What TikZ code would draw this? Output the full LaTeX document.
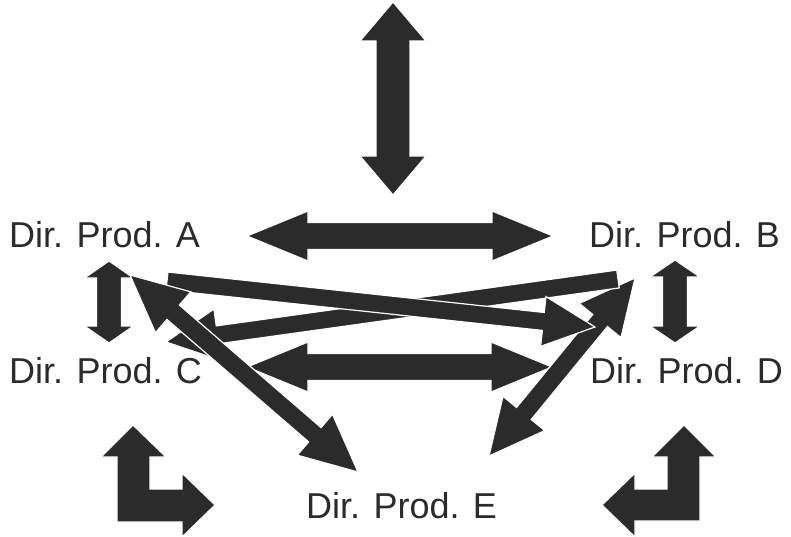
\documentclass[tikz,border=0pt]{standalone}
\usepackage{fontspec}
\setmainfont{Liberation Sans}
\usepackage{tikz}
\usetikzlibrary{calc}
\definecolor{arrowgray}{RGB}{43,43,43}

% block arrows: #1 from, #2 to, #3 half shaft, #4 half head, #5 head length
\newcommand{\onearrow}[5]{%
  \filldraw[blockarrow] ($(#1)!#3!90:(#2)$) -- ($(#2)!#5!(#1)!#3!-90:(#1)$) -- ($(#2)!#5!(#1)!#4!-90:(#1)$) -- (#2)
    -- ($(#2)!#5!(#1)!#4!90:(#1)$) -- ($(#2)!#5!(#1)!#3!90:(#1)$) -- ($(#1)!#3!-90:(#2)$) -- cycle;}
\newcommand{\twoarrow}[5]{%
  \filldraw[blockarrow] (#1) -- ($(#1)!#5!(#2)!#4!90:(#2)$) -- ($(#1)!#5!(#2)!#3!90:(#2)$) -- ($(#2)!#5!(#1)!#3!-90:(#1)$)
    -- ($(#2)!#5!(#1)!#4!-90:(#1)$) -- (#2) -- ($(#2)!#5!(#1)!#4!90:(#1)$) -- ($(#2)!#5!(#1)!#3!90:(#1)$)
    -- ($(#1)!#5!(#2)!#3!-90:(#2)$) -- ($(#1)!#5!(#2)!#4!-90:(#2)$) -- cycle;}

\begin{document}
\begin{tikzpicture}[x=1pt,y=-1pt,
  blockarrow/.style={fill=arrowgray,draw=white,line width=1.2pt,line join=miter},
  lbl/.style={anchor=base west,inner sep=0pt,text=arrowgray,font=\fontsize{36}{40}\selectfont}]
\useasboundingbox (0,0) rectangle (791,537);

% Directors
\node[lbl] (A) at (9,247) {Dir. Prod. A};
\node[lbl] (B) at (589,247) {Dir. Prod. B};
\node[lbl] (C) at (9,383) {Dir. Prod. C};
\node[lbl] (D) at (590,383) {Dir. Prod. D};
\node[lbl] (E) at (306,518) {Dir. Prod. E};

% Arrow ends
\coordinate (top1) at (393,2);   \coordinate (top2) at (393,195);
\coordinate (ab1) at (247,236);  \coordinate (ab2) at (553,236);
\coordinate (cd1) at (247,367);  \coordinate (cd2) at (552,367);
\coordinate (ac1) at (109,261);  \coordinate (ac2) at (109,343);
\coordinate (bd1) at (675,260);  \coordinate (bd2) at (675,343);
\coordinate (ad1) at (167,281);  \coordinate (ad2) at (595,327);
\coordinate (bc1) at (618,279);  \coordinate (bc2) at (166,342);
\coordinate (ae1) at (130,275);  \coordinate (ae2) at (358,472);
\coordinate (eb1) at (489,456);  \coordinate (eb2) at (635,278);

% Straight links
\twoarrow{top1}{top2}{17pt}{33pt}{39pt}
\twoarrow{ab1}{ab2}{13.5pt}{25pt}{61pt}
\twoarrow{cd1}{cd2}{13.5pt}{25pt}{61pt}
\twoarrow{ac1}{ac2}{12.5pt}{24.5pt}{17pt}
\twoarrow{bd1}{bd2}{12.5pt}{25pt}{17pt}

% Crossing links
\twoarrow{eb1}{eb2}{9.5pt}{27pt}{55pt}
\onearrow{bc1}{bc2}{9pt}{26pt}{52pt}
\onearrow{ad1}{ad2}{9pt}{25pt}{52pt}
\twoarrow{ae1}{ae2}{9.5pt}{27pt}{57pt}

% Corner arrows
\filldraw[blockarrow] (133,425) -- (166,457) -- (150,457) -- (150,489) -- (182,489) -- (182,473) -- (215,505)
  -- (182,537) -- (182,522) -- (117,522) -- (117,457) -- (101,457) -- cycle;
\filldraw[blockarrow] (684,425) -- (716,457) -- (700,457) -- (700,521) -- (635,521) -- (635,537) -- (602,505)
  -- (635,473) -- (635,489) -- (667,489) -- (667,457) -- (652,457) -- cycle;
\end{tikzpicture}
\end{document}
